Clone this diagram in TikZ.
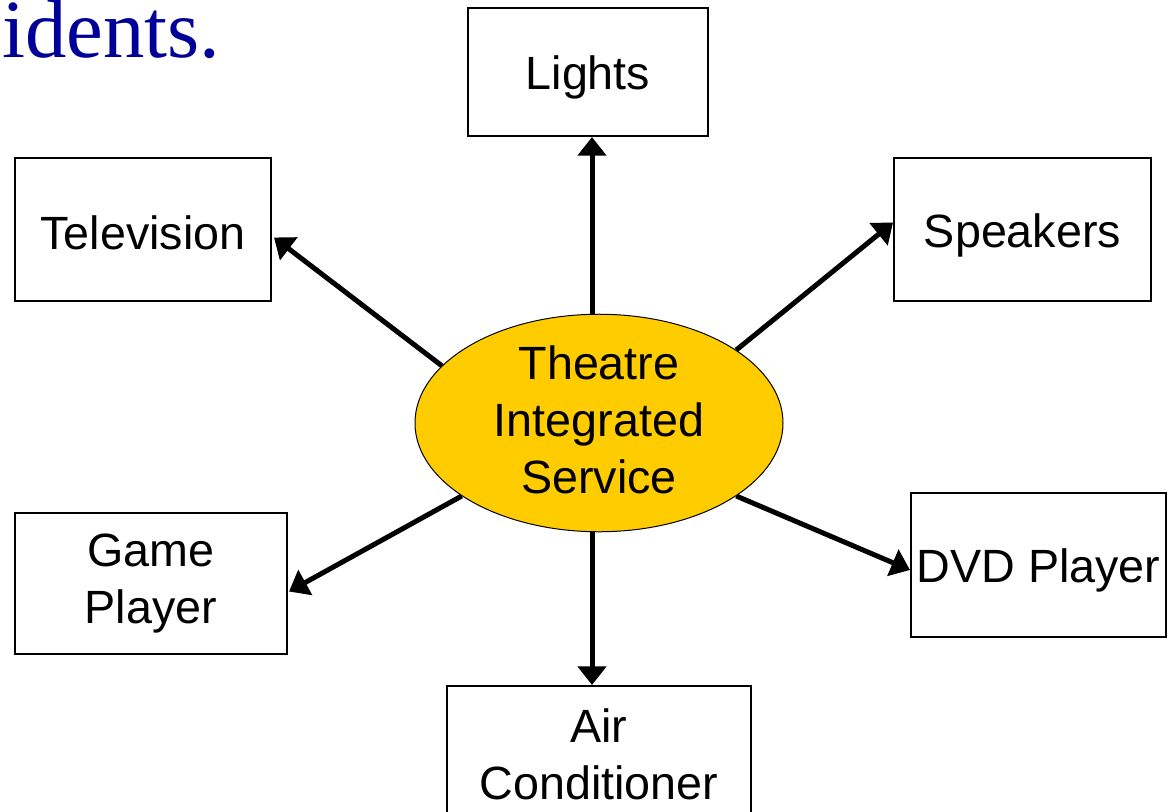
\documentclass[tikz,border=0pt]{standalone}
\usepackage{fontspec}
\setmainfont{Liberation Sans}
\newfontfamily\slideserif{Liberation Serif}
\usepackage{tikz}
\usetikzlibrary{arrows.meta,calc,shapes.geometric,backgrounds}
\usepackage{xcolor}
\definecolor{hubgold}{HTML}{FFCC00}
\definecolor{slideblue}{HTML}{000099}
\newcommand\boxstrut{\rule[-4.5pt]{0pt}{38.5pt}}
\tikzset{
  dev/.style={draw, line width=1.5pt, inner sep=0pt, align=center, font=\fontsize{35}{42.75}\selectfont,
    execute at begin node=\boxstrut, execute at end node=\boxstrut},
  hub/.style={ellipse, draw, line width=0.75pt, fill=hubgold, inner sep=0pt, minimum width=276pt, minimum height=156pt, align=center, font=\fontsize{35}{42.75}\selectfont,
    execute at begin node=\boxstrut, execute at end node=\boxstrut},
  link/.style={-{Triangle[length=14pt,width=21pt]}, line width=3.75pt},
}

\begin{document}
\begin{tikzpicture}[x=0.75pt,y=-0.75pt]
  \useasboundingbox (0,0) rectangle (1168,811);
  \clip (0,0) rectangle (1168,811);
  \node[anchor=base west, inner sep=0pt, text=slideblue, font=\slideserif\fontsize{62}{70}\selectfont] (title) at (2,57) {idents.};
  \node[hub] (tis) at (599,423) {Theatre\\Integrated\\Service};
  \node[dev, minimum width=180pt, minimum height=96pt] (lights) at (588,72) {Lights};
  \node[dev, minimum width=192pt, minimum height=107.25pt] (tv) at (143,229.5) {Television};
  \node[dev, minimum width=192.75pt, minimum height=107.25pt] (spk) at (1022.5,229.5) {Speakers};
  \node[dev, minimum width=204pt, minimum height=105.75pt] (game) at (151,583.5) {Game\\Player};
  \node[dev, minimum width=191.25pt, minimum height=108pt] (dvd) at (1038.5,565) {DVD Player};
  \node[dev, minimum width=228pt, minimum height=107.25pt] (air) at (599,757.5) {Air\\Conditioner};
  % connectors behind the ellipse
  \begin{scope}[on background layer]
    \draw[link] ($(tis.north)+(-7,0)$) -- ($(lights.south)+(4,0)$);
    \draw[link] (tis.160) -- ($(tv.east)+(2,8)$);
    \draw[link] (tis.28) -- ($(spk.west)+(0,-7)$);
    \draw[link] (tis.208) -- ($(game.east)+(1,8)$);
    \draw[link] (tis.332) -- ($(dvd.west)+(0,5)$);
    \draw[link] ($(tis.south)+(-7,0)$) -- ($(air.north)+(-7,0)$);
  \end{scope}
\end{tikzpicture}
\end{document}
